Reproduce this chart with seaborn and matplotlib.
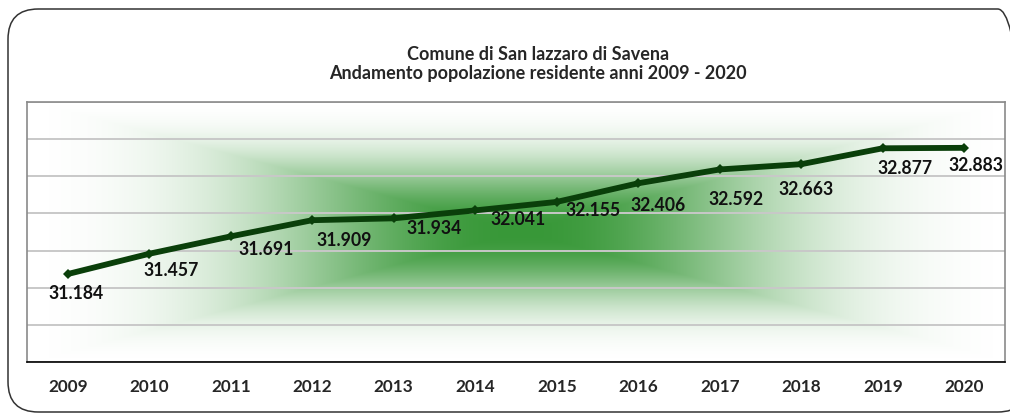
import matplotlib
matplotlib.use("Agg")
import matplotlib.pyplot as plt
import numpy as np
import pandas as pd
import seaborn as sns
from matplotlib.colors import to_rgb
from matplotlib.patches import FancyBboxPatch

years = ["2009", "2010", "2011", "2012", "2013", "2014",
         "2015", "2016", "2017", "2018", "2019", "2020"]
population = [31184, 31457, 31691, 31909, 31934, 32041,
              32155, 32406, 32592, 32663, 32877, 32883]
title_lines = ["Comune di San lazzaro di Savena",
               "Andamento popolazione residente anni 2009 - 2020"]

# label offsets from each point (pixels: right, down)
label_dx = [8, 22, 35, 32, 40, 43, 36, 20, 16, 5, 22, 12]
label_dy = [19, 17, 13, 20, 10, 9, 9, 22, 30, 25, 20, 18]

sns.set_style("white")
plt.rcParams["font.family"] = ["Lato", "DejaVu Sans"]

W, H = 1010, 419
fig = plt.figure(figsize=(W / 100, H / 100), dpi=100)

# outer rounded frame
frame = FancyBboxPatch((8 / W, 7 / H), 1020 / W, 403 / H,
                       boxstyle="round,pad=0,rounding_size=0.03",
                       transform=fig.transFigure, fill=False,
                       edgecolor="#333333", linewidth=1.1, mutation_aspect=W / H)
fig.patches.append(frame)

ax = fig.add_axes([27 / W, (H - 362) / H, 978 / W, 260 / H])

# rectangular "from centre" green gradient in the plot area
nx, ny = 700, 240
gx = np.linspace(-1, 1, nx)
gy = np.linspace(-1, 1, ny)
XX, YY = np.meshgrid(gx, gy)
t = np.maximum(np.abs(XX - 0.01), np.abs(YY))
w = np.exp(-(t / 0.52) ** 2.2)
w = np.clip((w - 0.02) / 0.98, 0, 1)
green = np.array(to_rgb("#389838"))
white = np.array([1.0, 1.0, 1.0])
img = white[None, None, :] * (1 - w[..., None]) + green[None, None, :] * w[..., None]
ax.imshow(img, extent=[0, 1, 0, 1], transform=ax.transAxes, aspect="auto",
          zorder=-2, interpolation="bilinear")

df = pd.DataFrame({"year": years, "population": population})
sns.lineplot(data=df, x="year", y="population", ax=ax, color="#0a3f0a",
             linewidth=4.2, marker="D", markersize=5, markeredgewidth=0,
             zorder=3)

for i, (v, dx, dy) in enumerate(zip(population, label_dx, label_dy)):
    ax.annotate(f"{v:,}".replace(",", "."), (i, v), xytext=(dx, -dy),
                textcoords="offset pixels", ha="center", va="center",
                fontsize=12.7, fontweight="bold", color="#111111", zorder=4)

ax.set_xlim(-0.5, len(years) - 0.5)
ax.set_ylim(30000, 33500)
ax.set_yticks(np.arange(30000, 33501, 500))
ax.set_yticklabels([])
ax.tick_params(axis="y", length=0)
ax.set_xticks(range(len(years)))
ax.set_xticklabels(years, fontsize=12.3, fontweight="bold")
ax.set_xticks(np.arange(-0.5, len(years)), minor=True)
ax.tick_params(axis="x", which="major", length=0, pad=12)
ax.tick_params(axis="x", which="minor", length=6, width=1, color="black",
               direction="out")
ax.set_xlabel("")
ax.set_ylabel("")
ax.grid(axis="y", color="#c8c8c8", linewidth=1.4)
ax.set_axisbelow(True)
for side in ["left", "top", "right"]:
    ax.spines[side].set_color("#8a8a8a")
    ax.spines[side].set_linewidth(1.2)
ax.spines["bottom"].set_color("black")
ax.spines["bottom"].set_linewidth(1.2)
if ax.get_legend():
    ax.get_legend().remove()

fig.text(538 / W, (H - 55) / H, title_lines[0], ha="center", va="center",
         fontsize=13, fontweight="bold")
fig.text(538 / W, (H - 73) / H, title_lines[1], ha="center", va="center",
         fontsize=13, fontweight="bold")

fig.savefig("out.png", dpi=100)
